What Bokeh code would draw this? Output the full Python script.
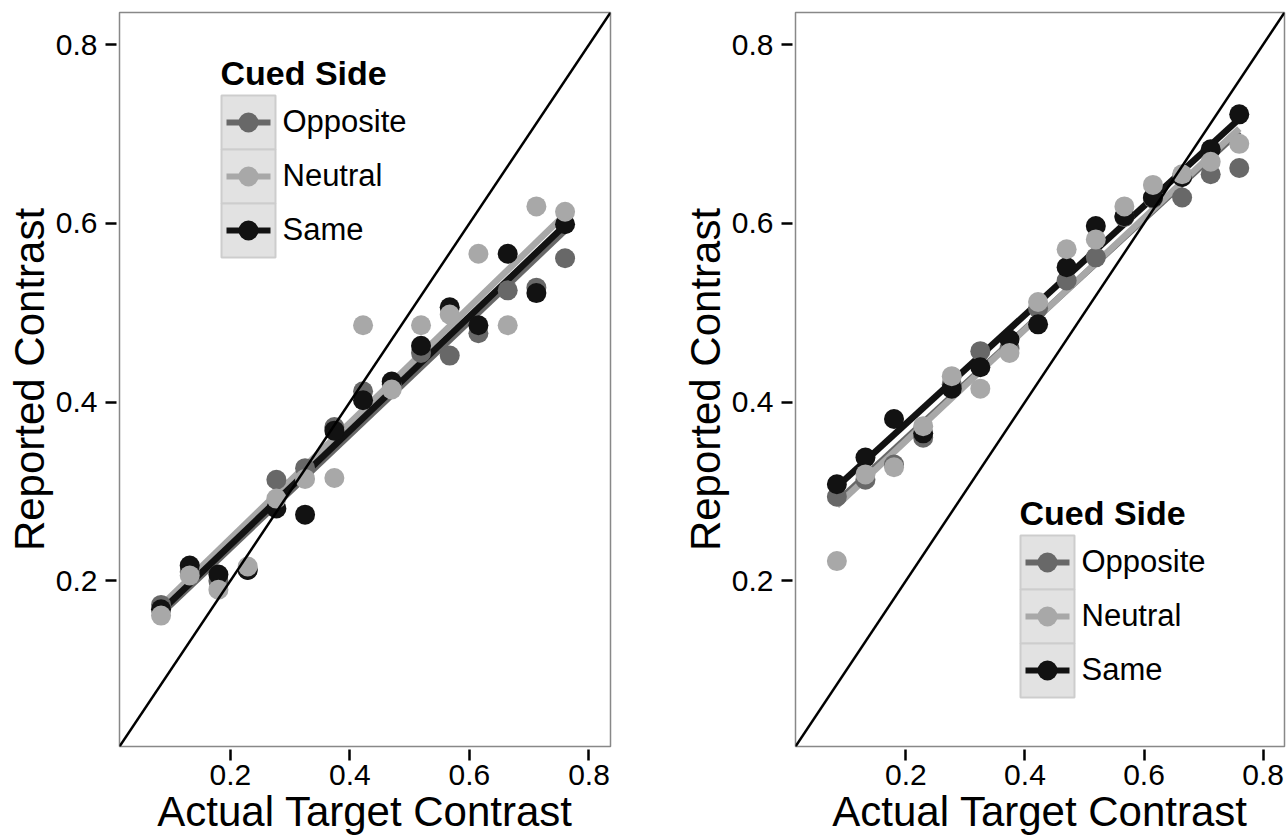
import numpy as np
from bokeh.plotting import figure
from bokeh.layouts import row
from bokeh.models import Slope, BoxAnnotation, Label, FixedTicker, Range1d
from bokeh.embed import file_html
from bokeh.resources import INLINE

# ---------------- data ----------------
contrast = [0.084, 0.132, 0.180, 0.229, 0.277, 0.325, 0.374, 0.422,
            0.470, 0.519, 0.567, 0.615, 0.664, 0.712, 0.760]

left_opposite = [0.173, 0.210, 0.200, 0.212, 0.313, 0.326, 0.372, 0.412,
                 0.420, 0.455, 0.452, 0.477, 0.525, 0.528, 0.561]
left_neutral = [0.161, 0.206, 0.190, 0.216, 0.292, 0.314, 0.315, 0.486,
                0.414, 0.486, 0.498, 0.566, 0.486, 0.619, 0.613]
left_same = [0.168, 0.217, 0.207, 0.212, 0.281, 0.274, 0.368, 0.402,
             0.423, 0.463, 0.506, 0.486, 0.566, 0.522, 0.599]

right_opposite = [0.294, 0.313, 0.330, 0.360, 0.420, 0.457, 0.460, 0.505,
                  0.536, 0.562, 0.607, 0.628, 0.629, 0.655, 0.662]
right_neutral = [0.222, 0.319, 0.327, 0.373, 0.429, 0.415, 0.455, 0.512,
                 0.571, 0.582, 0.619, 0.643, 0.655, 0.669, 0.689]
right_same = [0.308, 0.338, 0.381, 0.365, 0.415, 0.439, 0.470, 0.487,
              0.551, 0.597, 0.608, 0.629, 0.652, 0.683, 0.722]

# fitted-line values (Opposite, Neutral, Same) at the lowest and highest contrast
left_fit_start = [0.163, 0.172, 0.166]
left_fit_end = [0.592, 0.610, 0.598]
right_fit_start = [0.288, 0.284, 0.305]
right_fit_end = [0.703, 0.706, 0.717]

groups = ["Opposite", "Neutral", "Same"]
tick_values = [0.2, 0.4, 0.6, 0.8]
x_title = "Actual Target Contrast"
y_title = "Reported Contrast"
legend_title = "Cued Side"

# ---------------- style ----------------
COLORS = {"Opposite": "#686868", "Neutral": "#a8a8a8", "Same": "#121212"}
FONT = "Liberation Sans"
RNG = (0.0145, 0.836)
H = 839
TOP = 12
BOTTOM = 93
FRAME_H = H - TOP - BOTTOM


def panel(data, fit_start, fit_end, width, border_left, border_right, leg_left, leg_top, lab_dx):
    p = figure(width=width, height=H, x_range=Range1d(*RNG), y_range=Range1d(*RNG),
               output_backend="svg", toolbar_location=None,
               min_border_left=border_left, min_border_right=border_right,
               min_border_top=TOP, min_border_bottom=BOTTOM,
               background_fill_color="white", border_fill_color="white")
    p.grid.visible = False
    p.outline_line_color = "#888888"
    p.outline_line_width = 1.5
    for ax in (p.xaxis[0], p.yaxis[0]):
        ax.ticker = FixedTicker(ticks=tick_values)
        ax.axis_line_color = None
        ax.major_tick_in = -3
        ax.major_tick_out = 14
        ax.minor_tick_line_color = None
        ax.major_tick_line_width = 2.5
        ax.major_tick_line_color = "black"
        ax.major_label_text_font = FONT
        ax.major_label_text_font_size = "30px"
        ax.major_label_text_color = "black"
        ax.axis_label_text_font = FONT
        ax.axis_label_text_font_size = "42px"
        ax.axis_label_text_font_style = "normal"
        ax.axis_label_text_color = "black"
    p.xaxis.axis_label = x_title
    p.yaxis.axis_label = y_title
    p.xaxis.major_label_standoff = 4
    p.xaxis.axis_label_standoff = 0
    p.yaxis.major_label_standoff = 8
    p.yaxis.axis_label_standoff = 0

    xe = [min(contrast), max(contrast)]
    # fitted lines
    for i, g in enumerate(groups):
        p.line(xe, [fit_start[i], fit_end[i]], line_width=6.5, line_color=COLORS[g])
    # points
    for g in ["Opposite", "Same", "Neutral"]:
        p.scatter(contrast, data[g], size=20, fill_color=COLORS[g], line_color=None)
    # identity line
    p.add_layout(Slope(gradient=1, y_intercept=0, line_color="black", line_width=2.5))

    # legend (ggplot style)
    key = 54
    p.add_layout(Label(x=leg_left - 1, y=FRAME_H - (leg_top - 12), x_units="screen", y_units="screen",
                       text=legend_title, text_font=FONT, text_font_size="34px",
                       text_font_style="bold", text_color="black",
                       text_baseline="middle", text_align="left"))
    for i, g in enumerate(groups):
        top = leg_top + 11 + i * key
        cy = FRAME_H - (top + key / 2)
        cx = leg_left + key / 2
        p.add_layout(BoxAnnotation(left=leg_left, right=leg_left + key,
                                   top=FRAME_H - top, bottom=FRAME_H - top - key,
                                   left_units="screen", right_units="screen",
                                   top_units="screen", bottom_units="screen",
                                   fill_color="#e2e2e2", fill_alpha=1.0,
                                   line_color="#cdcdcd", line_width=2, line_alpha=1.0))
        p.add_layout(BoxAnnotation(left=cx - 22, right=cx + 22, top=cy + 3, bottom=cy - 3,
                                   left_units="screen", right_units="screen",
                                   top_units="screen", bottom_units="screen",
                                   fill_color=COLORS[g], fill_alpha=1.0, line_color=None))
        p.add_layout(BoxAnnotation(left=cx - 10, right=cx + 10, top=cy + 10, bottom=cy - 10,
                                   left_units="screen", right_units="screen",
                                   top_units="screen", bottom_units="screen",
                                   border_radius=10,
                                   fill_color=COLORS[g], fill_alpha=1.0, line_color=None))
        p.add_layout(Label(x=leg_left + key + lab_dx, y=cy + 1, x_units="screen", y_units="screen",
                           text=g, text_font=FONT, text_font_size="31px", text_color="black",
                           text_baseline="middle", text_align="left"))
    return p


left = panel({"Opposite": left_opposite, "Neutral": left_neutral, "Same": left_same},
             left_fit_start, left_fit_end, 643, 119, 33, 102, 72, 7)
right = panel({"Opposite": right_opposite, "Neutral": right_neutral, "Same": right_same},
              right_fit_start, right_fit_end, 644, 152, 3, 225, 512, 7)

layout = row(left, right, spacing=0)
open("out.html", "w").write(file_html(layout, INLINE))
